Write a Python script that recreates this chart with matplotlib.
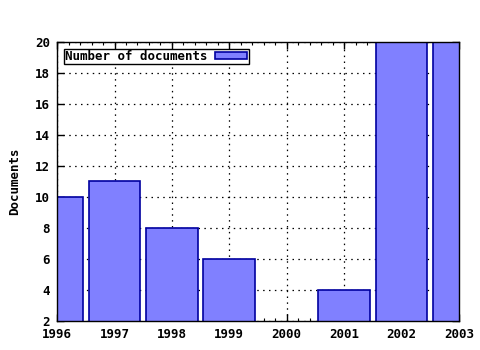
import matplotlib
matplotlib.use("Agg")
import matplotlib.pyplot as plt
from matplotlib.ticker import MultipleLocator

# donnees
annees = [1996, 1997, 1998, 1999, 2000, 2001, 2002, 2003]
documents = [10, 11, 8, 6, 0, 4, 24, 24]
ticks_y = [2, 4, 6, 8, 10, 12, 14, 16, 18, 20]

plt.rcParams['font.family'] = ['DejaVu Sans Mono']
plt.rcParams['font.weight'] = 'bold'
plt.rcParams['font.size'] = 9

fig = plt.figure(figsize=(4.8, 3.5), dpi=100)
ax = fig.add_axes([0.119, 0.083, 0.837, 0.797])

ax.bar(annees, documents, width=0.9, color='#8080ff', edgecolor='#0000a0',
       linewidth=1.2, label="Number of documents", zorder=2)

ax.set_xlim(1996, 2003)
ax.set_ylim(2, 20)
ax.set_xticks(annees)
ax.set_xticklabels([str(a) for a in annees], fontweight='bold')
ax.set_yticks(ticks_y)
ax.set_yticklabels([str(v) for v in ticks_y], fontweight='bold')
ax.xaxis.set_minor_locator(MultipleLocator(0.2))
ax.tick_params(which='both', direction='in', top=True, right=True)
ax.tick_params(which='major', length=5, width=1, pad=5)
ax.tick_params(which='minor', length=2.5, width=0.8)
ax.grid(True, which='major', color='black', linestyle=(0, (1.2, 3.5)), linewidth=0.9, zorder=1)
ax.set_axisbelow(True)

for s in ax.spines.values():
    s.set_linewidth(1)
    s.set_zorder(3)

ax.set_ylabel("Documents", fontweight='bold', labelpad=10)

leg = ax.legend(loc='upper left', frameon=True, fancybox=False, borderpad=0.1,
                handlelength=2.6, handleheight=0.55, bbox_to_anchor=(0.01, 0.985),
                markerfirst=False, borderaxespad=0.2, handletextpad=0.6)
leg.get_frame().set_edgecolor('black')
leg.get_frame().set_linewidth(1)
leg.get_frame().set_alpha(1)

plt.savefig("out.png", dpi=100)
